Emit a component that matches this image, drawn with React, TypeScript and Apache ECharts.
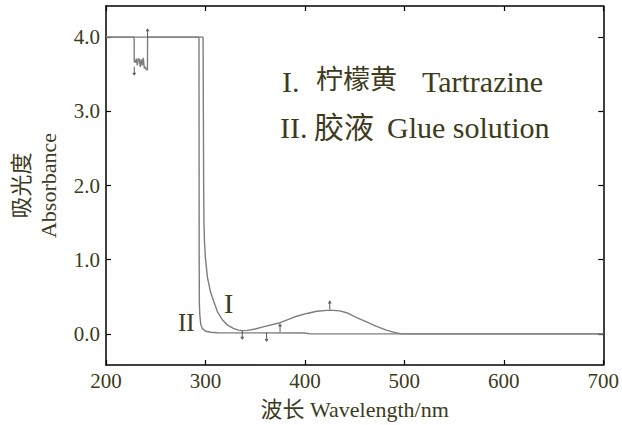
import React, { useEffect, useRef } from "react";
import * as echarts from "echarts";

// Wavelength (nm) / absorbance pairs
const tartrazineWavelength = [200, 297.6, 297.9, 298.2, 298.5, 299, 300, 302, 305, 308, 312, 317, 322, 328, 333, 337, 342, 350, 360, 375, 390, 402, 412, 425, 435, 442, 452, 462, 472, 482, 490, 497, 700];
const tartrazineAbsorbance = [4.0, 4.0, 3.0, 2.0, 1.5, 1.25, 1.02, 0.76, 0.57, 0.45, 0.3, 0.19, 0.12, 0.075, 0.05, 0.044, 0.047, 0.065, 0.1, 0.15, 0.23, 0.275, 0.305, 0.32, 0.31, 0.285, 0.22, 0.16, 0.1, 0.05, 0.02, 0.0, 0.0];

const glueWavelength = [200, 228.3, 228.4, 229.5, 230.5, 231.5, 232.5, 233.5, 234.5, 235.5, 236.5, 237.5, 238.5, 239.5, 240.5, 241.7, 241.8, 293.5, 293.7, 293.9, 294.3, 295.3, 297, 300.3, 305, 312, 340, 400, 405, 700];
const glueAbsorbance = [4.0, 4.0, 3.67, 3.66, 3.71, 3.62, 3.71, 3.7, 3.6, 3.7, 3.62, 3.72, 3.58, 3.6, 3.56, 3.56, 4.0, 4.0, 1.0, 0.4, 0.26, 0.125, 0.07, 0.035, 0.022, 0.015, 0.013, 0.012, 0.0, 0.0];

// Peak-pick arrow marks
const upMarkWavelength = [241.8, 375, 425];
const upMarkAbsorbance = [4.0, 0.02, 0.33];
const downMarkWavelength = [228.4, 337, 361.5];
const downMarkAbsorbance = [3.6, 0.04, 0.01];

const wavelengthTicks = [200, 300, 400, 500, 600, 700];
const absorbanceTicks = [0, 1, 2, 3, 4];

const TEXT = "#3d3b1c";
const SERIF = "'Liberation Serif', 'Times New Roman', 'Noto Sans CJK SC', serif";
const CJK = "'Noto Sans CJK SC', sans-serif";

const zip = (xs: number[], ys: number[]) => xs.map((x, i) => [x, ys[i]]);

const UP_ARROW = "path://M2,0 L4,3.5 L2.5,3.5 L2.5,10 L1.5,10 L1.5,3.5 L0,3.5 Z";
const DOWN_ARROW = "path://M1.5,0 L2.5,0 L2.5,6.5 L4,6.5 L2,10 L0,6.5 L1.5,6.5 Z";

export default function App() {
  const ref = useRef<HTMLDivElement>(null);
  useEffect(() => {
    document.body.style.margin = "0";
    if (!ref.current) return;
    const chart = echarts.init(ref.current, undefined, { renderer: "svg" });
    const axisLine = { show: true, onZero: false, lineStyle: { color: "#000", width: 1.5 } };
    const tick = { show: true, inside: true, length: 5, lineStyle: { color: "#000", width: 1.2 } };
    chart.setOption({
      animation: false,
      backgroundColor: "#fff",
      grid: { left: 105, right: 18.5, top: 6, bottom: 59.3, show: false },
      xAxis: [
        {
          type: "value",
          min: 200,
          max: 700,
          interval: 100,
          position: "bottom",
          axisLine,
          axisTick: { ...tick, customValues: wavelengthTicks },
          axisLabel: {
            customValues: wavelengthTicks,
            color: TEXT,
            fontFamily: SERIF,
            fontSize: 21,
            margin: 6,
          },
          splitLine: { show: false },
          name: "波长 Wavelength/nm",
          nameLocation: "middle",
          nameGap: 33,
          nameTextStyle: { color: TEXT, fontFamily: SERIF, fontSize: 22 },
        },
        {
          type: "value",
          min: 200,
          max: 700,
          interval: 100,
          position: "top",
          axisLine,
          axisTick: { ...tick, customValues: wavelengthTicks },
          axisLabel: { show: false },
          splitLine: { show: false },
        },
      ],
      yAxis: [
        {
          type: "value",
          min: -0.42,
          max: 4.42,
          position: "left",
          axisLine,
          axisTick: { ...tick, customValues: absorbanceTicks },
          axisLabel: {
            customValues: absorbanceTicks,
            formatter: (v: number) => v.toFixed(1),
            color: TEXT,
            fontFamily: SERIF,
            fontSize: 21,
            margin: 6,
          },
          splitLine: { show: false },
          name: "吸光度\nAbsorbance",
          nameLocation: "middle",
          nameRotate: 90,
          nameGap: 44,
          nameTextStyle: { color: TEXT, fontFamily: SERIF, fontSize: 22, lineHeight: 27 },
        },
        {
          type: "value",
          min: -0.42,
          max: 4.42,
          position: "right",
          axisLine,
          axisTick: { ...tick, customValues: absorbanceTicks },
          axisLabel: { show: false },
          splitLine: { show: false },
        },
      ],
      series: [
        {
          name: "I. 柠檬黄 Tartrazine",
          type: "line",
          data: zip(tartrazineWavelength, tartrazineAbsorbance),
          showSymbol: false,
          lineStyle: { color: "#7d7d7d", width: 1.4 },
          z: 3,
        },
        {
          name: "II. 胶液 Glue solution",
          type: "line",
          data: zip(glueWavelength, glueAbsorbance),
          showSymbol: false,
          lineStyle: { color: "#7d7d7d", width: 1.4 },
          z: 3,
        },
        {
          type: "scatter",
          data: zip(upMarkWavelength, upMarkAbsorbance),
          symbol: UP_ARROW,
          symbolSize: [4, 9],
          symbolOffset: [0, -4.5],
          itemStyle: { color: "#333" },
          z: 4,
        },
        {
          type: "scatter",
          data: zip(downMarkWavelength, downMarkAbsorbance),
          symbol: DOWN_ARROW,
          symbolSize: [4, 9],
          symbolOffset: [0, 4.5],
          itemStyle: { color: "#333" },
          z: 4,
        },
      ],
      graphic: [
        { type: "text", left: 282, top: 66, style: { text: "I.", font: `30px ${SERIF}`, fill: TEXT } },
        { type: "text", left: 316, top: 64, style: { text: "柠檬黄", font: `27px ${CJK}`, fill: TEXT } },
        { type: "text", left: 422, top: 66, style: { text: "Tartrazine", font: `30px ${SERIF}`, fill: TEXT } },
        { type: "text", left: 280, top: 112, style: { text: "II.", font: `30px ${SERIF}`, fill: TEXT } },
        { type: "text", left: 314, top: 110, style: { text: "胶液", font: `30px ${CJK}`, fill: TEXT } },
        { type: "text", left: 387, top: 112, style: { text: "Glue solution", font: `30px ${SERIF}`, fill: TEXT } },
        { type: "text", left: 224, top: 289, style: { text: "I", font: `28px ${SERIF}`, fill: TEXT } },
        { type: "text", left: 178, top: 310, style: { text: "II", font: `25px ${SERIF}`, fill: TEXT } },
      ],
    });
    return () => chart.dispose();
  }, []);
  return <div ref={ref} style={{ width: 622, height: 425 }} />;
}
